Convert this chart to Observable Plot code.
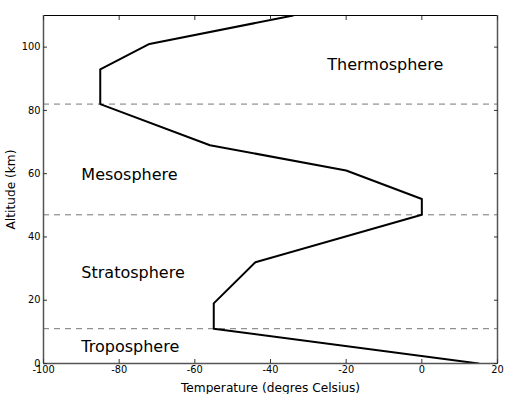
<!DOCTYPE html>
<html><head><meta charset="utf-8">
<script src="https://cdn.jsdelivr.net/npm/d3@7"></script>
<script src="https://cdn.jsdelivr.net/npm/@observablehq/plot@0.6"></script>
<style>body{margin:0;background:#fff}</style>
</head><body><div id="chart"></div>
<script>
const temperature = [15, -55, -55, -44, 0, 0, -20, -56, -85, -85, -72, -34];
const altitude = [0, 11, 19, 32, 47, 52, 61, 69, 82, 93, 101, 110];
const boundaries = [11, 47, 82];
const layerNames = ["Troposphere", "Stratosphere", "Mesosphere", "Thermosphere"];
const layerX = [-90, -90, -90, -25];
const layerY = [5.2, 28.5, 59.5, 94.4];
const xTicks = [-100, -80, -60, -40, -20, 0, 20];
const yTicks = [0, 20, 40, 60, 80, 100];
const xDomain = [-100, 20];
const yDomain = [0, 110];
const xLabel = "Temperature (degres Celsius)";
const yLabel = "Altitude (km)";

const profile = temperature.map((t, i) => ({t, a: altitude[i]}));
const layers = layerNames.map((n, i) => ({n, x: layerX[i], y: layerY[i]}));

const font = "DejaVu Sans, sans-serif";
const chart = Plot.plot({
  width: 513, height: 394,
  marginLeft: 43, marginRight: 16, marginTop: 15, marginBottom: 31,
  style: {fontFamily: font, background: "#fff", color: "#000"},
  x: {domain: xDomain},
  y: {domain: yDomain},
  marks: [
    Plot.ruleY(boundaries, {stroke: "#777", strokeWidth: 1, strokeDasharray: "6,5"}),
    Plot.line(profile, {x: "t", y: "a", stroke: "#000", strokeWidth: 2, clip: true}),
    Plot.text(layers, {x: "x", y: "y", text: "n", textAnchor: "start", lineAnchor: "middle", fontSize: 16, fill: "#000"}),
    Plot.ruleY([yDomain[1]], {stroke: "#000", strokeWidth: 1}),
    Plot.ruleY([yDomain[0]], {stroke: "#555", strokeWidth: 1.5}),
    Plot.ruleX([xDomain[0]], {stroke: "#555", strokeWidth: 1.5}),
    Plot.ruleX([xDomain[1]], {stroke: "#555", strokeWidth: 1.5}),
    Plot.axisX({anchor: "bottom", ticks: xTicks, tickSize: -4, tickFormat: () => "", label: null, stroke: "#333"}),
    Plot.axisX({anchor: "top", ticks: xTicks, tickSize: -4, tickFormat: () => "", label: null, stroke: "#333"}),
    Plot.axisY({anchor: "left", ticks: yTicks, tickSize: -4, tickFormat: () => "", label: null, stroke: "#333"}),
    Plot.axisY({anchor: "right", ticks: yTicks, tickSize: -4, tickFormat: () => "", label: null, stroke: "#333"}),
    Plot.axisX({anchor: "bottom", ticks: xTicks, tickSize: 0, tickPadding: 3, fontSize: 9.8, tickFormat: d => String(d), label: null}),
    Plot.axisY({anchor: "left", ticks: yTicks, tickSize: 0, tickPadding: 3, fontSize: 9.8, tickFormat: d => String(d), label: null}),
    Plot.axisX({anchor: "bottom", ticks: [], tickSize: 0, fontSize: 12.2,
      label: xLabel, labelAnchor: "center", labelArrow: "none", labelOffset: 28}),
    Plot.axisY({anchor: "left", ticks: [], tickSize: 0, fontSize: 12.2,
      label: yLabel, labelAnchor: "center", labelArrow: "none", labelOffset: 37})
  ]
});
document.getElementById("chart").appendChild(chart);
</script>
</body></html>
